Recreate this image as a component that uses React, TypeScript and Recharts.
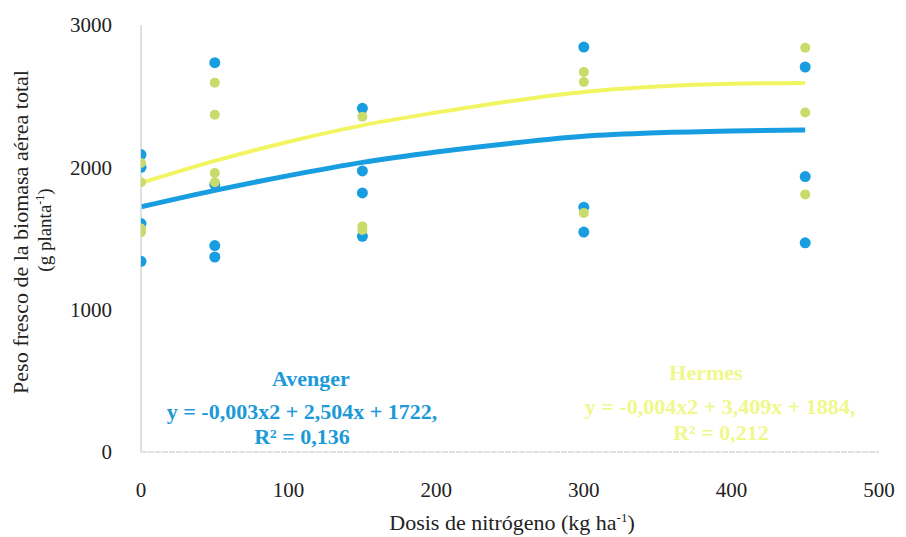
import React from 'react';
import { ComposedChart, Scatter, Line, XAxis, YAxis } from 'recharts';

// Nitrogen doses (kg ha-1)
const doses = [0, 50, 150, 300, 450];
// Observed fresh weight, Avenger (blue), per dose
const avengerObs = [
  [2090, 2000, 1605, 1340],
  [2735, 1880, 1450, 1370],
  [2415, 1975, 1820, 1515],
  [2845, 1720, 1545],
  [2705, 1935, 1470],
];
// Observed fresh weight, second hybrid (yellow), per dose
const hermesObs = [
  [2030, 1895, 1570, 1545],
  [2595, 2370, 1960, 1895],
  [2355, 1585, 1560],
  [2670, 2600, 1680],
  [2840, 2385, 1810],
];
// Trend curves
const curveX = [0, 50, 100, 150, 200, 250, 300, 350, 400, 450];
const avengerCurve = [1722, 1838, 1942, 2035, 2108, 2168, 2218, 2243, 2256, 2262];
const hermesCurve = [1890, 2045, 2180, 2295, 2385, 2465, 2530, 2568, 2588, 2593];

const xTicks = [0, 100, 200, 300, 400, 500];
const yTicks = [0, 1000, 2000, 3000];

const BLUE = '#189ee0';
const BLUE_TEXT = '#1c9ad8';
const YELLOW_LINE = '#f2f562';
const YELLOW_PT = '#c9db6a';
const YELLOW_TEXT = '#eff88a';
const FONT = "'Liberation Serif', 'Times New Roman', serif";

const toPoints = (obs: number[][]) =>
  obs.flatMap((vals, i) => vals.map((y) => ({ x: doses[i], y })));
const toCurve = (vals: number[]) => vals.map((y, i) => ({ x: curveX[i], y }));

const avengerPts = toPoints(avengerObs);
const hermesPts = toPoints(hermesObs);
const avengerLine = toCurve(avengerCurve);
const hermesLine = toCurve(hermesCurve);

const blueDot = (p: any) => <circle cx={p.cx} cy={p.cy} r={5.5} fill={BLUE} />;
const yellowDot = (p: any) => <circle cx={p.cx} cy={p.cy} r={5} fill={YELLOW_PT} />;

const serif = { fontFamily: FONT };

const renderXLabel = () => (
  <g style={serif}>
    <text x={512} y={530} textAnchor="middle" fontSize={22} fill="#222" style={serif}>
      Dosis de nitrógeno (kg ha<tspan dy={-8} fontSize={13}>-1</tspan><tspan dy={8}>)</tspan>
    </text>
    <text x={311} y={386} textAnchor="middle" fontSize={22} fontWeight="bold" fill={BLUE_TEXT} style={serif}>
      Avenger
    </text>
    <text x={302} y={419} textAnchor="middle" fontSize={22} fontWeight="bold" fill={BLUE_TEXT} style={serif}>
      y = -0,003x2 + 2,504x + 1722,
    </text>
    <text x={302} y={444} textAnchor="middle" fontSize={22} fontWeight="bold" fill={BLUE_TEXT} style={serif}>
      R² = 0,136
    </text>
    <text x={706} y={380} textAnchor="middle" fontSize={22} fontWeight="bold" fill={YELLOW_TEXT} style={serif}>
      Hermes
    </text>
    <text x={720} y={414} textAnchor="middle" fontSize={22} fontWeight="bold" fill={YELLOW_TEXT} style={serif}>
      y = -0,004x2 + 3,409x + 1884,
    </text>
    <text x={721} y={440} textAnchor="middle" fontSize={22} fontWeight="bold" fill={YELLOW_TEXT} style={serif}>
      R² = 0,212
    </text>
  </g>
);

const renderYLabel = () => (
  <g style={serif} fill="#222">
    <text x={28} y={232} textAnchor="middle" fontSize={22} transform="rotate(-90 28 232)" style={serif}>
      Peso fresco de la biomasa aérea total
    </text>
    <text x={51} y={230} textAnchor="middle" fontSize={19} transform="rotate(-90 51 230)" style={serif}>
      (g planta<tspan dy={-7} fontSize={12}>-1</tspan><tspan dy={7}>)</tspan>
    </text>
  </g>
);

export default function App() {
  return (
    <div style={{ position: 'absolute', left: 0, top: 0, background: '#fff' }}>
      <ComposedChart
        width={906}
        height={537}
        margin={{ top: 25, right: 27, bottom: 0, left: 0 }}
        style={serif}
      >
        <XAxis
          type="number"
          dataKey="x"
          domain={[0, 500]}
          ticks={xTicks}
          allowDataOverflow
          height={85}
          tickLine={false}
          tickSize={0}
          tickMargin={30}
          axisLine={{ stroke: '#d4d8dc', strokeWidth: 1.5, strokeDasharray: '6 1' }}
          tick={{ fontSize: 21, fill: '#222', style: serif }}
          label={renderXLabel}
        />
        <YAxis
          type="number"
          dataKey="y"
          domain={[0, 3000]}
          ticks={yTicks}
          width={141}
          tickLine={false}
          tickSize={0}
          tickMargin={29}
          axisLine={{ stroke: '#d6d6d6', strokeWidth: 1.5 }}
          tick={{ fontSize: 21, fill: '#222', style: serif }}
          label={renderYLabel}
        />
        <Scatter data={avengerPts} dataKey="y" shape={blueDot} isAnimationActive={false} />
        <Scatter data={hermesPts} dataKey="y" shape={yellowDot} isAnimationActive={false} />
        <Line
          data={hermesLine}
          dataKey="y"
          type="monotone"
          stroke={YELLOW_LINE}
          strokeWidth={4}
          dot={false}
          activeDot={false}
          isAnimationActive={false}
        />
        <Line
          data={avengerLine}
          dataKey="y"
          type="monotone"
          stroke={BLUE}
          strokeWidth={5}
          dot={false}
          activeDot={false}
          isAnimationActive={false}
        />
      </ComposedChart>
    </div>
  );
}
